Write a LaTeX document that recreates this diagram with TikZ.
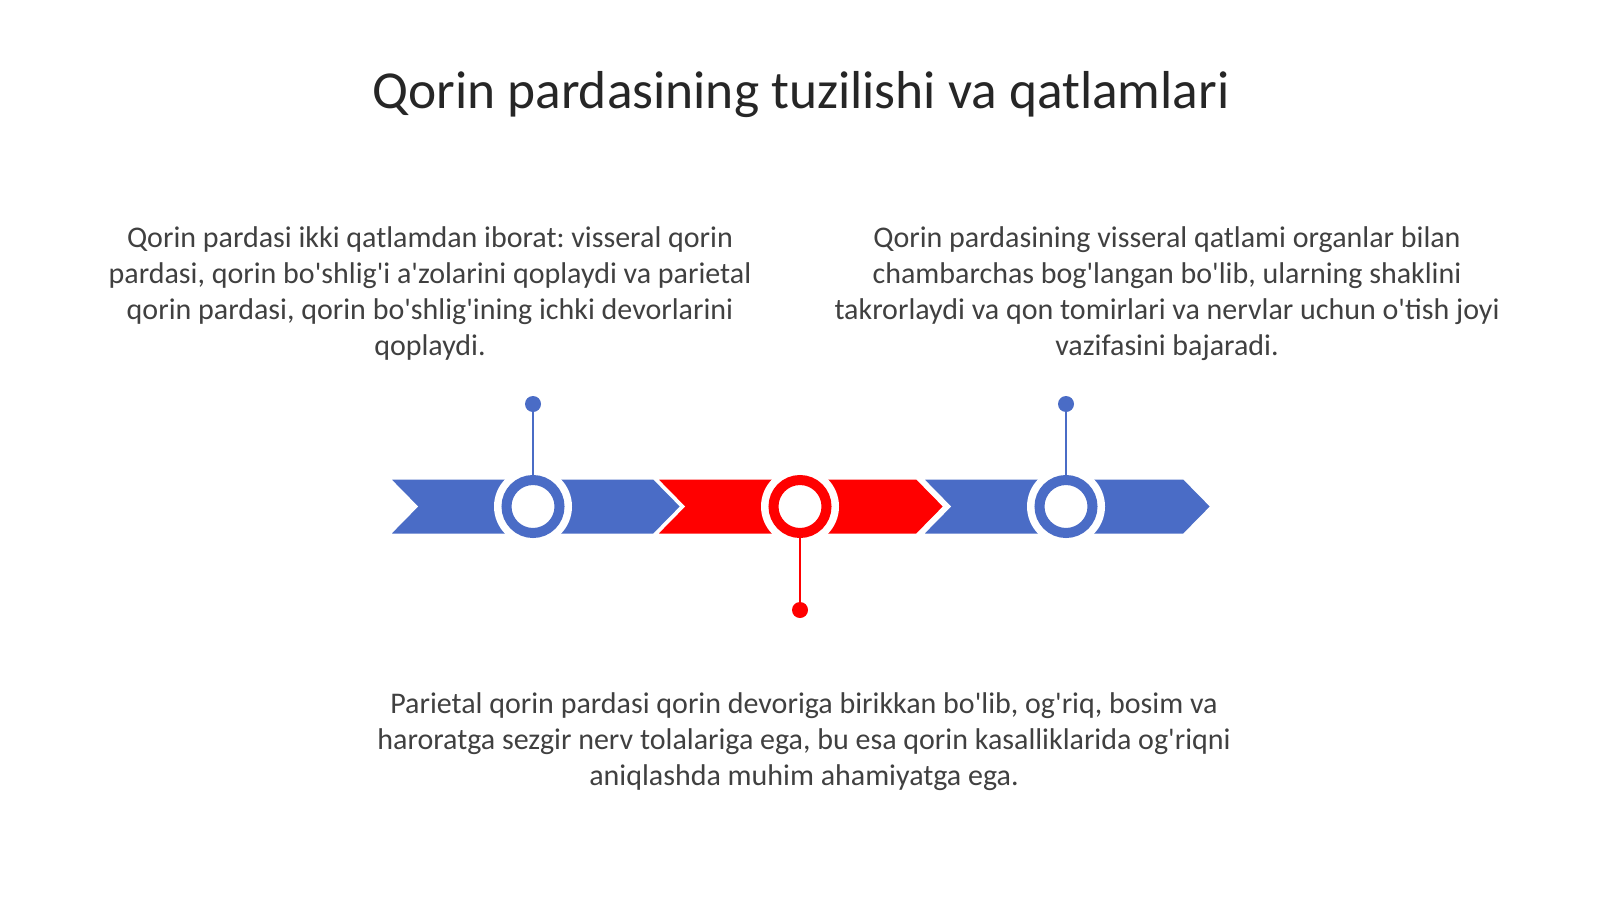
\documentclass[tikz,border=0pt]{standalone}
\usepackage{fontspec}
\newfontfamily\bodyfont{Carlito}
\definecolor{cblue}{HTML}{4A6CC6}
\definecolor{cred}{HTML}{FF0000}
\definecolor{ctext}{HTML}{404040}
\definecolor{ctitle}{HTML}{262626}
\tikzset{
  chev/.style={draw=white, line width=3pt, line join=miter},
  ringnode/.style={circle, draw=#1, line width=10pt, fill=white, minimum size=53pt, inner sep=0pt},
  halo/.style={circle, fill=white, minimum size=78pt, inner sep=0pt},
  dotnode/.style={circle, fill=#1, minimum size=16pt, inner sep=0pt},
  stem/.style={draw=#1, line width=2pt},
  bodytext/.style={text=ctext, font=\bodyfont\fontsize{30}{36}\selectfont\frenchspacing, align=center, inner sep=0pt, anchor=north},
}
\begin{document}
\begin{tikzpicture}[x=1pt, y=-1pt]
\useasboundingbox (0,0) rectangle (1600,899);
\node[text=ctitle, font=\bodyfont\fontsize{53.4}{60}\selectfont, anchor=base, inner sep=0pt] (title) at (801,108) {Qorin pardasining tuzilishi va qatlamlari};

\node[bodytext] (t1) at (430,226) {Qorin pardasi ikki qatlamdan iborat: visseral qorin\\pardasi, qorin bo'shlig'i a'zolarini qoplaydi va parietal\\qorin pardasi, qorin bo'shlig'ining ichki devorlarini\\qoplaydi.};
\node[bodytext] (t2) at (1167,226) {Qorin pardasining visseral qatlami organlar bilan\\chambarchas bog'langan bo'lib, ularning shaklini\\takrorlaydi va qon tomirlari va nervlar uchun o'tish joyi\\vazifasini bajaradi.};
\node[bodytext] (t3) at (804,692) {Parietal qorin pardasi qorin devoriga birikkan bo'lib, og'riq, bosim va\\haroratga sezgir nerv tolalariga ega, bu esa qorin kasalliklarida og'riqni\\aniqlashda muhim ahamiyatga ega.};

% chevrons
\fill[cblue, chev] (388,478) -- (654,478) -- (682,506.5) -- (654,535) -- (388,535) -- (416,506.5) -- cycle;
\fill[cblue, chev] (921,478) -- (1184,478) -- (1212,506.5) -- (1184,535) -- (921,535) -- (949,506.5) -- cycle;
\fill[cred, chev] (655,478) -- (917,478) -- (945,506.5) -- (917,535) -- (655,535) -- (683,506.5) -- cycle;

% rings
\node[halo] (h1) at (533,506.5) {};
\node[halo] (h2) at (800,506.5) {};
\node[halo] (h3) at (1066,506.5) {};
\node[ringnode=cblue] (r1) at (533,506.5) {};
\node[ringnode=cred] (r2) at (800,506.5) {};
\node[ringnode=cblue] (r3) at (1066,506.5) {};

% stems and dots
\node[dotnode=cblue] (d1) at (533,404) {};
\node[dotnode=cred] (d2) at (800,610) {};
\node[dotnode=cblue] (d3) at (1066,404) {};
\draw[stem=cblue] (d1.center) -- (r1.north);
\draw[stem=cred] (d2.center) -- (r2.south);
\draw[stem=cblue] (d3.center) -- (r3.north);
\end{tikzpicture}
\end{document}
